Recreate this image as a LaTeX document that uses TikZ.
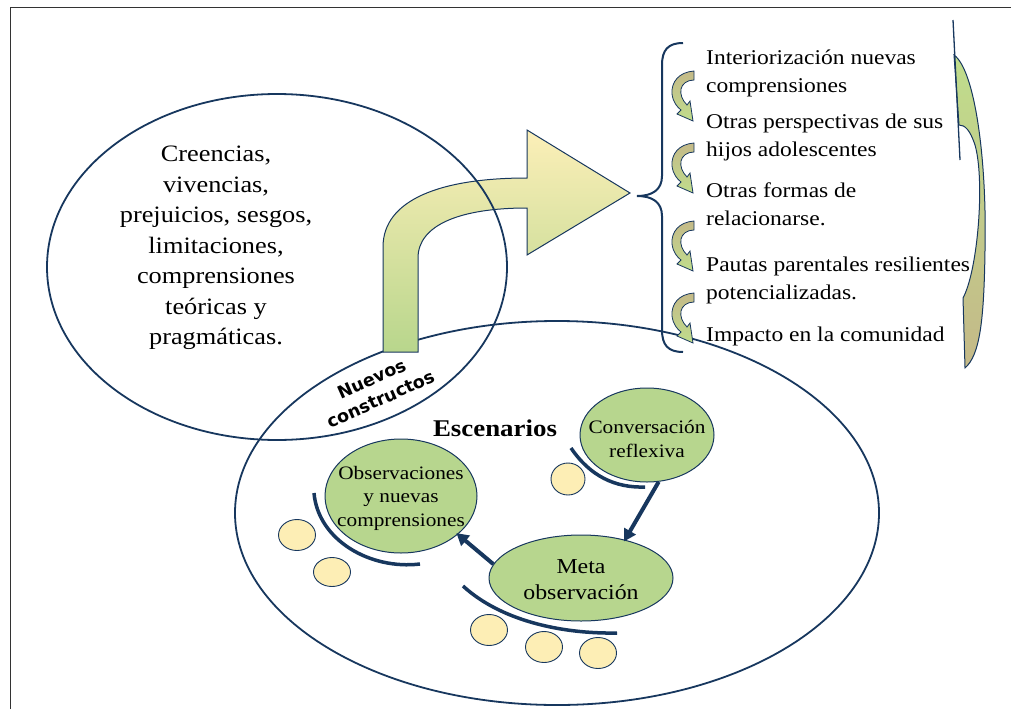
\documentclass[tikz,border=0pt]{standalone}
\usepackage{fontspec}
\setmainfont{Liberation Serif}[FakeStretch=1.12]
\newfontfamily\nsans{DejaVu Sans}
\usetikzlibrary{shapes.geometric,arrows.meta}
\definecolor{navy}{RGB}{23,55,94}
\definecolor{leaf}{RGB}{183,214,142}
\definecolor{cream}{RGB}{253,238,181}
\definecolor{tanc}{RGB}{196,185,136}
\definecolor{lgreen}{RGB}{192,221,140}
\definecolor{ayellow}{RGB}{252,239,184}
\definecolor{agreen}{RGB}{184,214,140}
\tikzset{
  bigell/.style={ellipse, draw=navy, line width=1.8pt, inner sep=0pt},
  leafell/.style={ellipse, draw=navy, line width=1pt, fill=leaf, inner sep=0pt},
  dot/.style={ellipse, draw=navy, line width=0.9pt, fill=cream, inner sep=0pt, minimum width=37pt, minimum height=31pt},
  arc/.style={draw=navy, line width=3.5pt},
  flow/.style={draw=navy, line width=4pt, -{Triangle[length=12pt,width=13pt]}, shorten >=-2pt},
  txt/.style={text=black, inner sep=0pt},
  item/.style={txt, anchor=west, align=left, font=\fontsize{21}{28}\selectfont}
}
\begin{document}
\begin{tikzpicture}[x=1pt,y=-1pt]
\useasboundingbox (0,0) rectangle (1011,709);
% frame
\draw[line width=1.5pt, black!80] (10.5,709) -- (10.5,7.5) -- (1011,7.5);

% lower big ellipse
\node[bigell, minimum width=644pt, minimum height=384pt] (escen) at (557,513) {};

% big bent arrow
\path[draw=navy, line width=1pt, top color=ayellow, bottom color=agreen]
  (383,352) -- (383,247) .. controls (383,200) and (440,178) .. (527,178)
  -- (527,130) -- (630,193) -- (527,255) -- (527,208)
  .. controls (460,208) and (418,225) .. (418,258) -- (418,352) -- cycle;

% left big ellipse
\node[bigell, minimum width=460pt, minimum height=346pt] (creenc) at (277,267) {};
\node[txt, align=center, font=\fontsize{23.5}{30.5}\selectfont] (creenct) at (216,248)
  {Creencias,\\vivencias,\\prejuicios, sesgos,\\limitaciones,\\comprensiones\\teóricas y\\pragmáticas.};

% Nuevos constructos
\node[txt, rotate=24, align=center, font=\nsans\bfseries\fontsize{17.5}{22}\selectfont] (nuevos) at (376,389)
  {Nuevos\\constructos};

% brace
\draw[navy, line width=2pt] (683,43) .. controls (668,43) and (662,50) .. (662,65) -- (662,176)
  .. controls (662,190) and (652,196) .. (637,196)
  .. controls (652,196) and (662,202) .. (662,216) -- (662,330)
  .. controls (662,345) and (668,352) .. (683,352);

% list
\node[item] (l1) at (706,73) {Interiorización nuevas\\comprensiones};
\node[item] (l2) at (706,137) {Otras perspectivas de sus\\hijos adolescentes};
\node[item] (l3) at (706,204) {Otras formas de\\relacionarse.};
\node[item] (l4) at (706,280) {Pautas parentales resilientes\\potencializadas.};
\node[item] (l5) at (706,336) {Impacto en la comunidad};

% small curved arrows
\foreach \yy in {70,142,220,292}{
\begin{scope}[shift={(671,\yy)}]
\path[draw=navy, line width=0.8pt, top color=tanc, bottom color=lgreen, middle color=tanc!50!lgreen]
  (23,1) .. controls (8,2) and (0,12) .. (1,24) .. controls (2,32) and (6,37) .. (10,40)
  -- (6,44) -- (22,51) -- (19,31) -- (16,35)
  .. controls (11,30) and (9,24) .. (10,19) .. controls (11,14) and (16,10) .. (23,10) -- cycle;
\end{scope}
}

% right crescent arrow
\path[draw=navy, line width=1pt, top color=lgreen, bottom color=tanc]
  (954,55) .. controls (975,70) and (987,160) .. (985,250)
  .. controls (984,320) and (980,355) .. (965,368) -- (963,298)
  .. controls (978,270) and (985,180) .. (975,145)
  .. controls (970,130) and (965,125) .. (959,125) -- cycle;
\draw[navy, line width=1.3pt] (953,20) -- (960,160);

% scenarios
\node[txt, font=\bfseries\fontsize{24}{28}\selectfont] (escent) at (495,428) {Escenarios};

\node[leafell, minimum width=134pt, minimum height=94pt] (conv) at (647,435) {};
\node[txt, align=center, font=\fontsize{19}{24}\selectfont] at ([yshift=-4pt]conv.center) {Conversación\\reflexiva};
\node[leafell, minimum width=152pt, minimum height=114pt] (obs) at (401,496) {};
\node[txt, align=center, font=\fontsize{19}{23.5}\selectfont] at ([yshift=-2pt]obs.center) {Observaciones\\y nuevas\\comprensiones};
\node[leafell, minimum width=184pt, minimum height=86pt] (meta) at (581,578) {};
\node[txt, align=center, font=\fontsize{21.3}{26}\selectfont] at ([yshift=-2pt]meta.center) {Meta\\observación};

% arcs
\draw[arc] (571,448) .. controls (590,476) and (615,488) .. (645,487);
\draw[arc] (314,493) .. controls (318,540) and (370,570) .. (420,564);
\draw[arc] (463,586) .. controls (500,620) and (560,634) .. (617,633);

% dots
\node[dot, minimum width=34pt, minimum height=32pt] (d1) at (568,479) {};
\node[dot] (d2) at (297,535) {};
\node[dot, minimum height=29pt] (d3) at (332,572) {};
\node[dot] (d4) at (489,630) {};
\node[dot] (d5) at (544,647) {};
\node[dot] (d6) at (598,653) {};

% flow arrows
\draw[flow] (conv.-76) -- (meta.41);
\draw[flow] (meta.171) -- (obs.-34);
\end{tikzpicture}
\end{document}
